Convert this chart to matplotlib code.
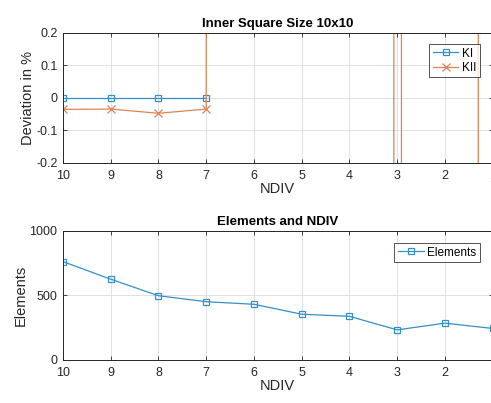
import numpy as np
import matplotlib.pyplot as plt
from matplotlib.ticker import FuncFormatter

plt.rcParams['font.family'] = ['Liberation Sans', 'DejaVu Sans']

# mesh divisions and results
ndiv = [10, 9, 8, 7, 6, 5, 4, 3, 2, 1]
ki_dev = [0.0, 0.0, 0.0, 0.0, np.nan, np.nan, np.nan, np.nan, np.nan, np.nan]
kii_dev = [-0.036, -0.035, -0.048, -0.035, 50000, 40000, 30000, -2250, 22700, -9760]
elements = [761, 625, 497, 451, 431, 354, 338, 233, 285, 244]

blue = '#3290c6'
orange = '#e08252'
dark = '#262626'


def style_axes(ax):
    ax.set_xlim(10, 1)
    ax.set_xticks(ndiv)
    ax.grid(True, color='#dcdcdc', linewidth=0.6)
    ax.set_axisbelow(True)
    ax.tick_params(direction='in', length=3, width=0.6, top=True, right=True,
                   labelsize=9, colors=dark)
    ax.tick_params(axis='x', pad=5)
    ax.tick_params(axis='y', pad=4)
    for s in ax.spines.values():
        s.set_color(dark)
        s.set_linewidth(0.7)
    ax.set_xlabel('NDIV', fontsize=10.5, color=dark, labelpad=0)


fig = plt.figure(figsize=(4.91, 4.03), dpi=100)

ax1 = fig.add_axes([0.1283, 0.5963, 0.875, 0.3226])
ax1.plot(ndiv, ki_dev, '-s', color=blue, lw=0.9, ms=4.5, mfc='none', mew=0.9, label='KI')
ax1.plot(ndiv, kii_dev, '-x', color=orange, lw=0.9, ms=5.5, mew=0.9, label='KII')
ax1.set_ylim(-0.2, 0.2)
ax1.set_yticks([-0.2, -0.1, 0, 0.1, 0.2])
ax1.yaxis.set_major_formatter(FuncFormatter(lambda v, p: '%g' % round(v, 2)))
style_axes(ax1)
ax1.set_ylabel('Deviation in %', fontsize=10.5, color=dark, labelpad=1)
ax1.set_title('Inner Square Size 10x10', fontsize=9.5, fontweight='bold', pad=4)
leg1 = ax1.legend(loc='upper right', bbox_to_anchor=(0.9705, 0.913), borderaxespad=0,
                  fontsize=8.5, frameon=True, fancybox=False, edgecolor=dark,
                  handlelength=2.2, handletextpad=0.3, borderpad=0.3, labelspacing=0.2)
leg1.get_frame().set_linewidth(0.7)

ax2 = fig.add_axes([0.1283, 0.1067, 0.875, 0.3208])
ax2.plot(ndiv, elements, '-s', color=blue, lw=0.9, ms=4.5, mfc='none', mew=0.9, label='Elements')
ax2.set_ylim(0, 1000)
ax2.set_yticks([0, 500, 1000])
style_axes(ax2)
ax2.set_ylabel('Elements', fontsize=10.5, color=dark, labelpad=1)
ax2.set_title('Elements and NDIV', fontsize=9.5, fontweight='bold', pad=4)
leg2 = ax2.legend(loc='upper right', bbox_to_anchor=(0.9705, 0.905), borderaxespad=0,
                  fontsize=8.5, frameon=True, fancybox=False, edgecolor=dark,
                  handlelength=2.2, handletextpad=0.3, borderpad=0.3)
leg2.get_frame().set_linewidth(0.7)

fig.savefig('out.png', dpi=100)
